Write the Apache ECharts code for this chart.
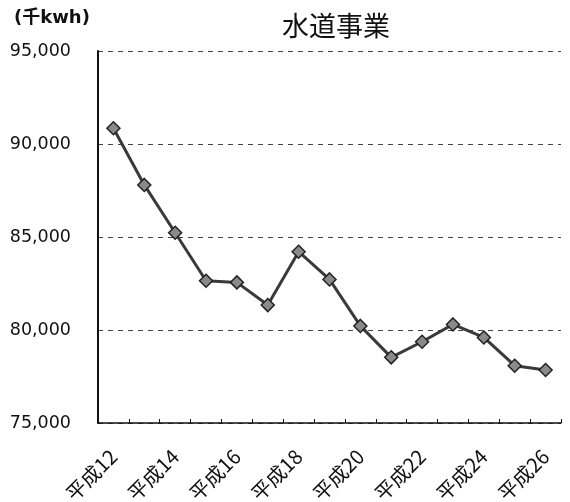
<!DOCTYPE html>
<html>
<head>
<meta charset="utf-8">
<script src="https://cdn.jsdelivr.net/npm/echarts@6/dist/echarts.min.js"></script>
<style>
  html, body { margin: 0; padding: 0; background: #fff; }
  #chart { width: 570px; height: 502px; }
</style>
</head>
<body>
<div id="chart"></div>
<script>
// Fiscal years (Heisei era) and annual power usage of the water utility, in thousand kWh
const years = ['平成12','平成13','平成14','平成15','平成16','平成17','平成18','平成19',
               '平成20','平成21','平成22','平成23','平成24','平成25','平成26'];
const usage = [90850, 87800, 85230, 82650, 82560, 81340, 84210, 82720,
               80220, 78530, 79370, 80300, 79600, 78080, 77850];
const yTicks = { min: 75000, max: 95000, step: 5000 };
const titleText = '水道事業';
const unitText = '(千kwh)';

const chart = echarts.init(document.getElementById('chart'));
const font = '"DejaVu Sans", "Noto Sans CJK JP", sans-serif';
const cjkFont = '"Noto Sans CJK JP", sans-serif';

chart.setOption({
  animation: false,
  backgroundColor: '#fff',
  title: {
    text: titleText,
    left: 331, top: 7, textAlign: 'center',
    textStyle: { fontFamily: cjkFont, fontSize: 27, fontWeight: 'normal', color: '#111' }
  },
  graphic: [{
    type: 'text', left: 14, top: 9,
    style: { text: unitText, fontFamily: font, fontSize: 18, fontWeight: 'bold', fill: '#111' }
  }],
  grid: { left: 98, right: 9, top: 51, bottom: 79, outerBoundsMode: 'none', containLabel: false },
  xAxis: {
    type: 'category',
    data: years,
    boundaryGap: true,
    axisLine: { lineStyle: { color: '#111', width: 1.5 } },
    axisTick: { show: true, inside: true, length: 4, interval: 0, lineStyle: { color: '#111' } },
    axisLabel: {
      interval: 1, rotate: 45, margin: 30,
      fontFamily: cjkFont, fontSize: 20, color: '#111'
    },
    splitLine: { show: false }
  },
  yAxis: {
    type: 'value',
    min: yTicks.min, max: yTicks.max, interval: yTicks.step,
    axisLine: { show: true, lineStyle: { color: '#111', width: 2 } },
    axisTick: { show: false },
    axisLabel: {
      margin: 27, fontFamily: font, fontSize: 17.5, color: '#111',
      formatter: v => v.toLocaleString('en-US')
    },
    splitLine: { show: true, lineStyle: { color: '#444', type: [5, 5], width: 1 } }
  },
  series: [{
    type: 'line',
    data: usage,
    symbol: 'diamond',
    symbolSize: 13,
    lineStyle: { color: '#3a3a3a', width: 3 },
    itemStyle: { color: '#8a8a8a', borderColor: '#222', borderWidth: 1.5 }
  }]
});
</script>
</body>
</html>
